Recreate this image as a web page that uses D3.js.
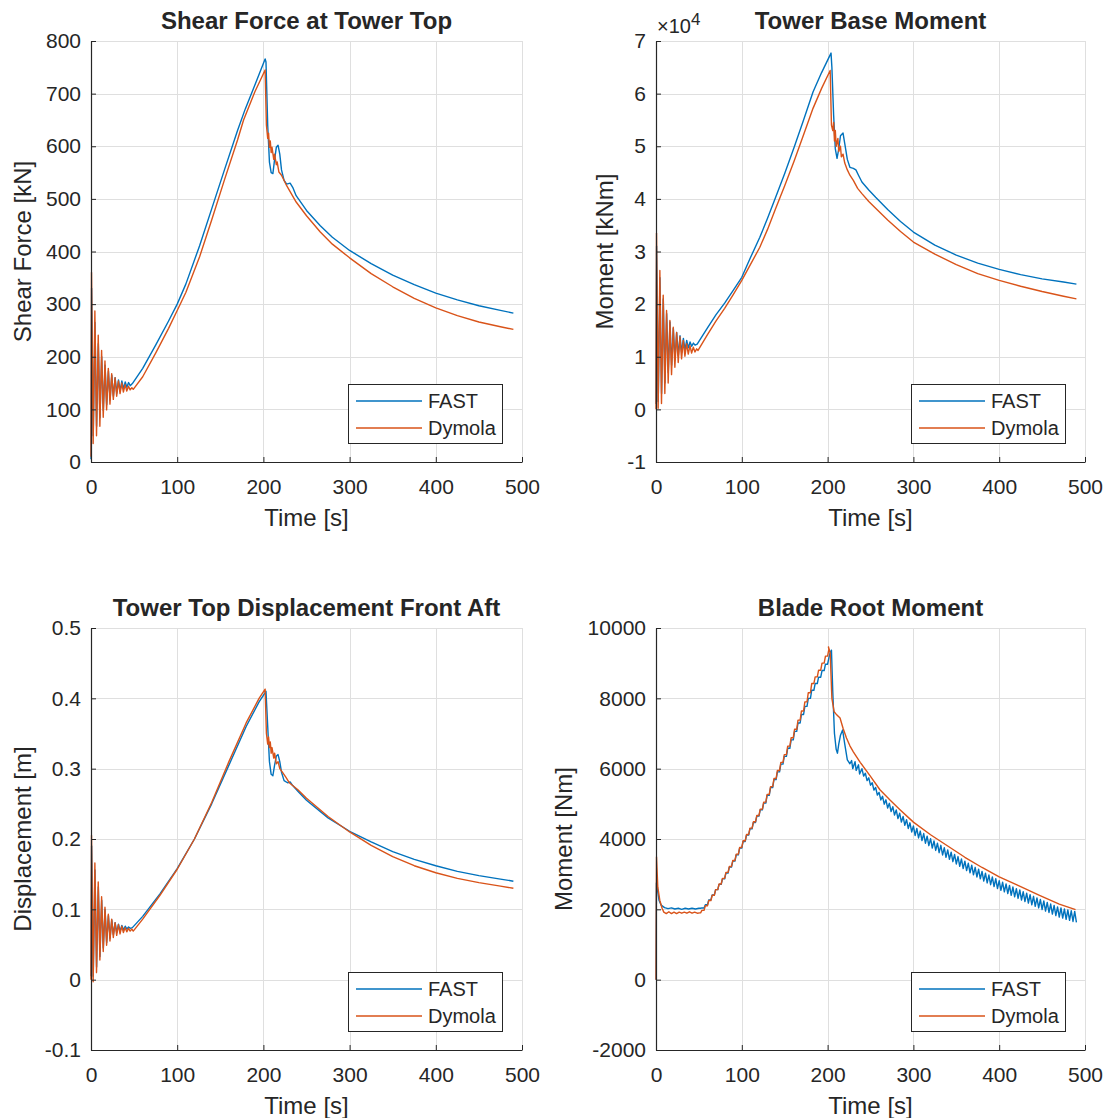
<!DOCTYPE html>
<html>
<head>
<meta charset="utf-8">
<script src="https://cdn.jsdelivr.net/npm/d3@7"></script>
<style>
  body { margin: 0; background: #fff; }
  text { font-family: "Liberation Sans", Arial, Helvetica, sans-serif; fill: #262626; }
</style>
</head>
<body>
<svg width="1107" height="1118"></svg>
<script>
// ---- data ----
var timeTicks = [0, 100, 200, 300, 400, 500];
var shearTicks = [0, 100, 200, 300, 400, 500, 600, 700, 800];
var baseTicks = [-1, 0, 1, 2, 3, 4, 5, 6, 7];
var dispTicks = [-0.1, 0, 0.1, 0.2, 0.3, 0.4, 0.5];
var dispLabels = ["-0.1", "0", "0.1", "0.2", "0.3", "0.4", "0.5"];
var bladeTicks = [-2000, 0, 2000, 4000, 6000, 8000, 10000];

// start-up transient sample times (peaks / troughs)
var dymOscT = [0, 0.6, 2.5, 4.5, 6.4, 8.4, 10.3, 12.3, 14.2, 16.2, 18.1, 20.1, 22.0, 24.0, 25.9,
  27.9, 29.8, 31.8, 33.7, 35.7, 37.6, 39.6, 41.5, 43.5, 45.4, 47.4, 49];
var fastOscT = [0, 0.7, 2.6, 4.6, 6.5, 8.5, 10.4, 12.4, 14.3, 16.3, 18.2, 20.2, 22.1, 24.1, 26.0,
  28.0, 29.9, 31.9, 33.8, 35.8, 37.7, 39.7, 41.6, 43.6, 45.5, 48];

// Shear force [kN]
var shearDymOscV = [10, 360, 35, 287, 50, 241, 68, 212, 85, 192, 99, 178, 110, 168, 119, 160, 125,
  154, 130, 150, 133, 147, 135, 144, 137, 141, 138];
var shearDymT = [60, 75, 90, 100, 110, 126, 140, 155, 170, 177, 190, 202, 203.5, 205, 206, 207, 208,
  209, 210, 212, 213, 215, 216, 218, 221, 227, 238, 250, 266, 280, 300, 325, 350, 375, 400, 425, 450, 475, 490];
var shearDymV = [162, 207, 254, 288, 322, 390, 460, 537, 612, 650, 703, 745, 640, 615, 625, 598, 610,
  588, 598, 575, 585, 565, 570, 551, 545, 525, 494, 468, 437, 414, 388, 358, 333, 311, 293, 278, 266, 257, 252];
var shearFastOscV = [5, 330, 50, 265, 68, 225, 84, 200, 98, 184, 109, 173, 118, 165, 125, 160, 131,
  156, 135, 154, 139, 152, 142, 151, 145, 149];
var shearFastT = [60, 75, 90, 100, 110, 126, 140, 155, 170, 179, 190, 202, 203, 205, 207, 209, 211, 213,
  215, 217, 219, 221, 224, 227, 231, 234, 238, 250, 266, 280, 300, 325, 350, 375, 400, 425, 450, 475, 490];
var shearFastV = [178, 222, 268, 300, 338, 411, 481, 556, 630, 671, 716, 766, 760, 640, 570, 550, 548, 575,
  598, 602, 585, 555, 535, 528, 530, 522, 506, 478, 449, 427, 402, 377, 355, 337, 321, 308, 297, 288, 283];

// Tower base moment [x1e4 kNm]
var baseDymOscV = [0, 3.35, 0.02, 2.64, 0.11, 2.17, 0.30, 1.88, 0.50, 1.69, 0.66, 1.56, 0.80, 1.46, 0.89,
  1.38, 0.96, 1.31, 1.01, 1.25, 1.05, 1.21, 1.07, 1.18, 1.09, 1.15, 1.12];
var baseDymT = [60, 70, 80, 90, 100, 110, 121, 130, 139, 150, 161, 172, 183, 193, 203, 204.5, 206, 207, 208,
  209, 210, 212, 213, 215, 216, 218, 220, 223, 226, 230, 235, 240, 248, 256, 270, 285, 300, 325, 350, 375,
  400, 425, 450, 475, 490];
var baseDymV = [1.42, 1.68, 1.92, 2.18, 2.45, 2.75, 3.08, 3.42, 3.8, 4.25, 4.72, 5.22, 5.72, 6.1, 6.44, 5.4,
  5.3, 5.45, 5.1, 5.3, 5.0, 5.15, 4.9, 5.0, 4.8, 4.85, 4.68, 4.55, 4.45, 4.35, 4.2, 4.1, 3.95, 3.82, 3.6, 3.38,
  3.18, 2.95, 2.75, 2.58, 2.45, 2.34, 2.24, 2.15, 2.1];
var baseFastOscV = [0.1, 3.1, 0.15, 2.5, 0.3, 2.1, 0.5, 1.82, 0.7, 1.66, 0.84, 1.54, 0.94, 1.46, 1.02,
  1.4, 1.08, 1.35, 1.13, 1.31, 1.17, 1.28, 1.2, 1.26, 1.22, 1.24];
var baseFastT = [60, 70, 80, 90, 100, 110, 121, 130, 139, 150, 161, 172, 183, 193, 204, 205, 207, 209, 211,
  213, 215, 218, 220, 223, 226, 230, 233, 236, 240, 248, 256, 270, 285, 300, 325, 350, 375, 400, 425, 450, 475, 490];
var baseFastV = [1.55, 1.8, 2.02, 2.26, 2.51, 2.88, 3.27, 3.63, 4.01, 4.48, 4.98, 5.5, 6.03, 6.4, 6.77, 6.5,
  5.6, 4.95, 4.77, 4.95, 5.2, 5.25, 5.05, 4.75, 4.6, 4.58, 4.55, 4.45, 4.32, 4.17, 4.03, 3.8, 3.57, 3.37, 3.12,
  2.93, 2.78, 2.66, 2.56, 2.48, 2.42, 2.38];

// Tower top displacement [m]
var dispDymOscV = [0, 0.205, -0.003, 0.166, 0.01, 0.139, 0.028, 0.118, 0.04, 0.103, 0.049, 0.093, 0.055,
  0.086, 0.06, 0.081, 0.063, 0.078, 0.065, 0.076, 0.067, 0.074, 0.068, 0.073, 0.069, 0.072, 0.069];
var dispDymT = [60, 80, 100, 120, 140, 160, 180, 195, 202, 203.5, 205, 206, 207, 208, 209, 210, 212, 213,
  215, 217, 219, 222, 226, 230, 240, 250, 275, 300, 325, 350, 375, 400, 425, 450, 475, 490];
var dispDymV = [0.086, 0.12, 0.157, 0.2, 0.252, 0.31, 0.365, 0.4, 0.413, 0.35, 0.335, 0.345, 0.33, 0.338,
  0.322, 0.33, 0.315, 0.322, 0.307, 0.31, 0.3, 0.295, 0.288, 0.28, 0.27, 0.258, 0.232, 0.21, 0.191, 0.175,
  0.162, 0.152, 0.144, 0.138, 0.133, 0.13];
var dispFastOscV = [0.005, 0.19, 0.005, 0.156, 0.018, 0.132, 0.033, 0.113, 0.045, 0.1, 0.053, 0.091, 0.059,
  0.085, 0.064, 0.081, 0.067, 0.079, 0.069, 0.077, 0.071, 0.076, 0.072, 0.075, 0.073, 0.074];
var dispFastT = [60, 80, 100, 120, 140, 160, 180, 195, 203, 205, 207, 209, 211, 213, 215, 217, 219, 221,
  224, 228, 231, 234, 240, 250, 275, 300, 325, 350, 375, 400, 425, 450, 475, 490];
var dispFastV = [0.09, 0.122, 0.158, 0.2, 0.25, 0.305, 0.36, 0.395, 0.41, 0.36, 0.31, 0.292, 0.29, 0.305,
  0.318, 0.32, 0.31, 0.295, 0.283, 0.28, 0.281, 0.276, 0.268, 0.255, 0.23, 0.211, 0.196, 0.182, 0.171, 0.162,
  0.154, 0.148, 0.143, 0.14];

// Blade root moment [Nm]
var bladeDymStartT = [0, 0.6, 2.1, 4.4, 7.1, 9.1, 12, 15, 18, 21, 24, 27, 30, 33, 36, 39, 42, 45, 48, 51];
var bladeDymStartV = [0, 3490, 2630, 2260, 2030, 1920, 1880, 1930, 1880, 1920, 1880, 1920, 1890, 1920,
  1890, 1930, 1890, 1920, 1890, 1900];
var bladeStepT = [52, 56, 60, 64, 68, 72, 76, 80, 84, 88, 92, 96, 100, 104, 108, 112, 116, 120, 124, 128,
  132, 136, 140, 144, 148, 152, 156, 160, 164, 168, 172, 176, 180, 184, 188, 192, 196, 200];
var bladeDymSteps = [1970, 2100, 2250, 2400, 2560, 2720, 2880, 3050, 3220, 3390, 3570, 3760, 3950, 4130,
  4310, 4490, 4670, 4850, 5050, 5270, 5490, 5720, 5950, 6180, 6400, 6640, 6880, 7120, 7380, 7640, 7900,
  8160, 8420, 8610, 8800, 9000, 9200, 9400];
var bladeDymT = [201, 203, 205, 207.6, 210, 214.5, 218, 222, 226, 230, 238, 250, 261, 273, 285, 300, 320,
  340, 360, 380, 400, 420, 447, 470, 489];
var bladeDymV = [9460, 9300, 8000, 7620, 7550, 7440, 7150, 6870, 6650, 6480, 6180, 5780, 5400, 5100, 4820,
  4480, 4120, 3800, 3480, 3190, 2925, 2700, 2400, 2150, 1990];
var bladeFastStartT = [0, 0.5, 1.4, 3.5, 6, 10, 14, 18, 22, 26, 30, 34, 38, 42, 46, 50];
var bladeFastStartV = [0, 2750, 2630, 2260, 2120, 2050, 2020, 2040, 2010, 2030, 2000, 2030, 2010, 2030,
  2010, 2030];
var bladeFastSteps = [2040, 2130, 2270, 2410, 2560, 2710, 2870, 3030, 3200, 3370, 3550, 3740, 3930, 4110,
  4290, 4470, 4650, 4830, 5020, 5240, 5460, 5690, 5910, 6130, 6350, 6580, 6820, 7060, 7300, 7540, 7770,
  8000, 8230, 8420, 8600, 8790, 8970, 9150];
var bladeFastT = [203, 204.5, 206, 208, 210, 211.5, 213, 215, 217.5, 220, 223, 226, 228, 229.3, 232,
  233.3, 236, 237.3];
var bladeFastV = [9300, 9370, 8200, 7000, 6550, 6440, 6700, 6950, 7100, 6700, 6250, 6140, 6230, 6000,
  6200, 5950, 6110, 5850];
// 1P ripple on the FAST blade moment: one peak and one trough per rotor turn
var bladeCycT = [240, 244, 248, 252, 256, 260, 264, 268, 272, 276, 280, 284, 288, 292, 296, 300, 304, 308,
  312, 316, 320, 324, 328, 332, 336, 340, 344, 348, 352, 356, 360, 364, 368, 372, 376, 380, 384, 388, 392,
  396, 400, 404, 408, 412, 416, 420, 424, 428, 432, 436, 440, 444, 448, 452, 456, 460, 464, 468, 472, 476,
  480, 484, 488];
var bladeCycHi = [6000, 5870, 5740, 5600, 5465, 5325, 5215, 5115, 5015, 4920, 4825, 4735, 4640, 4550, 4460,
  4370, 4300, 4225, 4155, 4080, 4010, 3945, 3880, 3820, 3755, 3690, 3625, 3560, 3500, 3435, 3370, 3310,
  3255, 3195, 3140, 3080, 3030, 2975, 2920, 2870, 2815, 2770, 2725, 2680, 2635, 2590, 2550, 2500, 2460,
  2415, 2370, 2325, 2280, 2240, 2195, 2150, 2110, 2070, 2040, 2010, 1985, 1960, 1940];
var bladeCycLo = [5790, 5660, 5530, 5390, 5250, 5110, 4990, 4880, 4780, 4680, 4580, 4480, 4390, 4300, 4200,
  4100, 4030, 3955, 3880, 3810, 3740, 3675, 3610, 3545, 3480, 3420, 3355, 3290, 3225, 3160, 3100, 3040,
  2980, 2920, 2865, 2805, 2750, 2700, 2645, 2590, 2540, 2495, 2450, 2400, 2355, 2310, 2265, 2220, 2175,
  2130, 2085, 2040, 1995, 1950, 1910, 1865, 1820, 1780, 1750, 1715, 1685, 1655, 1630];

// ---- helpers to turn the arrays into point lists ----
function pairs(T, V) { return T.map(function(t, i) { return [t, V[i]]; }); }
function steps(T, L, start) {
  var out = [];
  T.forEach(function(t, i) {
    out.push([t, i ? L[i - 1] : start]);
    out.push([t + 1.5, L[i]]);
  });
  return out;
}
function zigzag(T, hi, lo) {
  var out = [];
  T.forEach(function(t, i) { out.push([t, hi[i]]); out.push([t + 2, lo[i]]); });
  return out;
}

var panels = [
  { title: "Shear Force at Tower Top", ylabel: "Shear Force [kN]", left: 91, right: 522, top: 41, bottom: 462,
    ydom: [0, 800], yticks: shearTicks, ylabelX: 31,
    fast: pairs(fastOscT, shearFastOscV).concat(pairs(shearFastT, shearFastV)),
    dym: pairs(dymOscT, shearDymOscV).concat(pairs(shearDymT, shearDymV)) },
  { title: "Tower Base Moment", ylabel: "Moment [kNm]", left: 656, right: 1085, top: 41, bottom: 462,
    ydom: [-1, 7], yticks: baseTicks, ylabelX: 613, exponent: true,
    fast: pairs(fastOscT, baseFastOscV).concat(pairs(baseFastT, baseFastV)),
    dym: pairs(dymOscT, baseDymOscV).concat(pairs(baseDymT, baseDymV)) },
  { title: "Tower Top Displacement Front Aft", ylabel: "Displacement [m]", left: 91, right: 522, top: 628, bottom: 1050,
    ydom: [-0.1, 0.5], yticks: dispTicks, ylabels: dispLabels, ylabelX: 31,
    fast: pairs(fastOscT, dispFastOscV).concat(pairs(dispFastT, dispFastV)),
    dym: pairs(dymOscT, dispDymOscV).concat(pairs(dispDymT, dispDymV)) },
  { title: "Blade Root Moment", ylabel: "Moment [Nm]", left: 656, right: 1085, top: 628, bottom: 1050,
    ydom: [-2000, 10000], yticks: bladeTicks, ylabelX: 572,
    fast: pairs(bladeFastStartT, bladeFastStartV)
      .concat(steps(bladeStepT, bladeFastSteps, 2030))
      .concat(pairs(bladeFastT, bladeFastV))
      .concat(zigzag(bladeCycT, bladeCycHi, bladeCycLo)),
    dym: pairs(bladeDymStartT, bladeDymStartV)
      .concat(steps(bladeStepT, bladeDymSteps, 1900))
      .concat(pairs(bladeDymT, bladeDymV)) }
];

var svg = d3.select("svg");
svg.append("rect").attr("width", 1107).attr("height", 1118).attr("fill", "#fff");

var blue = "#0072BD", orange = "#D95319", ink = "#262626", gridCol = "#dfdfdf";

panels.forEach(function(p, k) {
  var x = d3.scaleLinear().domain([0, 500]).range([p.left, p.right]);
  var y = d3.scaleLinear().domain(p.ydom).range([p.bottom, p.top]);
  var g = svg.append("g");

  // grid
  g.selectAll(".gx").data(timeTicks).enter().append("line")
    .attr("x1", function(d) { return Math.round(x(d)) + 0.5; })
    .attr("x2", function(d) { return Math.round(x(d)) + 0.5; })
    .attr("y1", p.top).attr("y2", p.bottom)
    .attr("stroke", gridCol).attr("stroke-width", 1);
  g.selectAll(".gy").data(p.yticks).enter().append("line")
    .attr("y1", function(d) { return Math.round(y(d)) + 0.5; })
    .attr("y2", function(d) { return Math.round(y(d)) + 0.5; })
    .attr("x1", p.left).attr("x2", p.right)
    .attr("stroke", gridCol).attr("stroke-width", 1);

  // data lines
  var line = d3.line().x(function(d) { return x(d[0]); }).y(function(d) { return y(d[1]); });
  g.append("path").datum(p.fast).attr("d", line)
    .attr("fill", "none").attr("stroke", blue).attr("stroke-width", 1.4).attr("stroke-linejoin", "round");
  g.append("path").datum(p.dym).attr("d", line)
    .attr("fill", "none").attr("stroke", orange).attr("stroke-width", 1.4).attr("stroke-linejoin", "round");

  // axes
  var xAxis = d3.axisBottom(x).tickValues(timeTicks).tickSizeInner(-5).tickSizeOuter(0).tickPadding(17);
  var ax = g.append("g").attr("transform", "translate(0," + p.bottom + ")").call(xAxis);
  var yAxis = d3.axisLeft(y).tickValues(p.yticks).tickSizeInner(-5).tickSizeOuter(0).tickPadding(10)
    .tickFormat(function(d, i) { return p.ylabels ? p.ylabels[i] : String(d); });
  var ay = g.append("g").attr("transform", "translate(" + p.left + ",0)").call(yAxis);
  [ax, ay].forEach(function(a) {
    a.select(".domain").attr("stroke", ink).attr("stroke-width", 1.2);
    a.selectAll(".tick line").attr("stroke", ink);
    a.selectAll("text").style("font-size", "21px").attr("fill", ink)
      .style("font-family", "'Liberation Sans', Arial, sans-serif");
  });

  // title and labels
  g.append("text").attr("x", (p.left + p.right) / 2).attr("y", p.top - 12)
    .attr("text-anchor", "middle").style("font-size", "24px").style("font-weight", "bold").text(p.title);
  g.append("text").attr("x", (p.left + p.right) / 2).attr("y", p.bottom + 64)
    .attr("text-anchor", "middle").style("font-size", "24px").text("Time [s]");
  g.append("text")
    .attr("transform", "translate(" + p.ylabelX + "," + (p.top + p.bottom) / 2 + ") rotate(-90)")
    .attr("text-anchor", "middle").style("font-size", "24px").text(p.ylabel);

  if (p.exponent) {
    var ex = g.append("text").attr("x", p.left + 1).attr("y", p.top - 8).style("font-size", "20px");
    ex.append("tspan").text("\u00d710");
    ex.append("tspan").attr("dy", -8).style("font-size", "17px").text("4");
  }

  // legend
  var lw = 154, lh = 59;
  var lx = p.right - 20 - lw, ly = p.bottom - 19 - lh;
  var lg = g.append("g").attr("transform", "translate(" + lx + "," + ly + ")");
  lg.append("rect").attr("x", 0.5).attr("y", 0.5).attr("width", lw).attr("height", lh)
    .attr("fill", "#fff").attr("stroke", ink).attr("stroke-width", 1);
  [["FAST", blue, 17], ["Dymola", orange, 44]].forEach(function(e) {
    lg.append("line").attr("x1", 8).attr("x2", 74).attr("y1", e[2]).attr("y2", e[2])
      .attr("stroke", e[1]).attr("stroke-width", 1.4);
    lg.append("text").attr("x", 80).attr("y", e[2] + 7).style("font-size", "20px").text(e[0]);
  });
});
</script>
</body>
</html>
